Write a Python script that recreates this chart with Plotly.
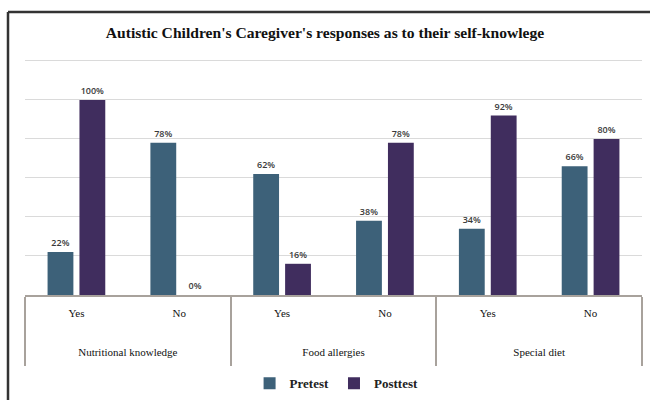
import plotly.graph_objects as go

groups = ["Nutritional knowledge", "Nutritional knowledge", "Food allergies", "Food allergies", "Special diet", "Special diet"]
answers = ["Yes", "No", "Yes", "No", "Yes", "No"]
pretest = [22, 78, 62, 38, 34, 66]
posttest = [100, 0, 16, 78, 92, 80]

c_pre = "#3D6179"
c_post = "#402D5E"
serif = "Liberation Serif"

# display labels (blank lines / spacer space the two label levels apart)
sp = "<span style='font-size:11px'>{}</span>"
pad = "<span style='font-size:40px'>&nbsp;</span>"
inner_lbl = [sp.format(a) for a in answers]
outer_lbl = ["&nbsp;<br>&nbsp;<br>" + pad + sp.format(g) + pad for g in groups]

fig = go.Figure()
for name, vals, col in [("Pretest", pretest, c_pre), ("Posttest", posttest, c_post)]:
    fig.add_trace(go.Bar(
        x=[outer_lbl, inner_lbl], y=vals, name="<b>" + name + "</b>",
        marker=dict(color=col, line=dict(width=0)),
        text=[f"{v}%" for v in vals], textposition="outside",
        textfont=dict(family="Open Sans", size=9, color="#3a3a3a", weight=600),
        cliponaxis=False,
    ))

fig.update_layout(
    width=650, height=400,
    margin=dict(l=25, r=8, t=57, b=105, autoexpand=False),
    paper_bgcolor="white", plot_bgcolor="white",
    barmode="group", bargap=0.38, bargroupgap=0.19,
    title=dict(text="<b>Autistic Children's Caregiver's responses as to their self-knowlege</b>",
               x=0.5, xanchor="center", y=0.918, yanchor="middle",
               font=dict(family=serif, size=15.6, color="#111111")),
    legend=dict(orientation="h", x=0.505, xanchor="center",
                yref="container", y=0.042, yanchor="middle",
                font=dict(family=serif, size=13, color="#222222"), itemwidth=30,
                traceorder="normal"),
    showlegend=True,
)
fig.update_yaxes(range=[0, 122], dtick=20, showticklabels=False, showgrid=True,
                 gridcolor="#DADADA", gridwidth=1, zeroline=False, showline=False)
fig.update_xaxes(showline=True, linecolor="#A8A29C", linewidth=1.5,
                 showdividers=True, dividercolor="#A8A29C", dividerwidth=1.5,
                 tickfont=dict(family=serif, size=12, color="#111111"),
                 ticks="", ticklabelstandoff=6)

# outer frame (cropped box: left and top edges)
H = 400 - 57 - 105
fig.add_shape(type="line", xref="paper", yref="paper",
              x0=-17/617, x1=-17/617, y0=-0.5, y1=(295-12)/H,
              line=dict(color="#333333", width=2.5))
fig.add_shape(type="line", xref="paper", yref="paper",
              x0=-17/617, x1=1.1, y0=(295-12)/H, y1=(295-12)/H,
              line=dict(color="#333333", width=2.5))

fig.write_html("out.html")
